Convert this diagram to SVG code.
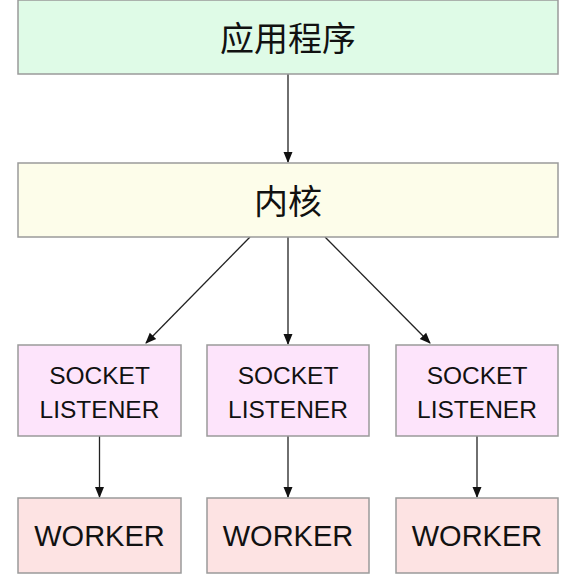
<svg xmlns="http://www.w3.org/2000/svg" width="577" height="587" viewBox="0 0 577 587">
<style>
.box{stroke:#9a9a9a;stroke-width:1.5}
.app{fill:#dffbe7}
.kern{fill:#fdfdea}
.sock{fill:#fde4fb}
.work{fill:#fde3e3}
.cjk{font-family:"Noto Sans CJK SC","Noto Sans CJK TC",sans-serif;font-size:34px;fill:#111;text-anchor:middle}
.lat{font-family:"Liberation Sans",Arial,sans-serif;fill:#111;text-anchor:middle}
.s{font-size:24.5px}
.w{font-size:29px}
.conn line{stroke:#222;stroke-width:1.3}
</style>
<defs>
<marker id="ah" markerWidth="12" markerHeight="12" refX="10" refY="5.5" orient="auto" markerUnits="userSpaceOnUse">
<path d="M0,1 L11,5.5 L0,10 z" fill="#111"/>
</marker>
</defs>
<rect width="577" height="587" fill="#fff"/>
<g id="conns" class="conn">
<line x1="288" y1="74" x2="288" y2="162" marker-end="url(#ah)"/>
<line x1="250" y1="237" x2="146" y2="343" marker-end="url(#ah)"/>
<line x1="288" y1="237" x2="288" y2="344" marker-end="url(#ah)"/>
<line x1="325" y1="237" x2="430" y2="343" marker-end="url(#ah)"/>
<line x1="99.5" y1="436" x2="99.5" y2="497" marker-end="url(#ah)"/>
<line x1="288" y1="436" x2="288" y2="497" marker-end="url(#ah)"/>
<line x1="477" y1="436" x2="477" y2="497" marker-end="url(#ah)"/>
</g>
<g id="app">
<rect class="box app" x="18" y="0" width="540" height="74"/>
<text class="cjk" x="288" y="51">应用程序</text>
</g>
<g id="kernel">
<rect class="box kern" x="18" y="163" width="540" height="74"/>
<text class="cjk" x="288" y="214">内核</text>
</g>
<g id="sock1">
<rect class="box sock" x="18" y="345" width="163" height="91"/>
<text class="lat s" x="99.5" y="384">SOCKET</text>
<text class="lat s" x="99.5" y="418">LISTENER</text>
</g>
<g id="sock2">
<rect class="box sock" x="207" y="345" width="162" height="91"/>
<text class="lat s" x="288" y="384">SOCKET</text>
<text class="lat s" x="288" y="418">LISTENER</text>
</g>
<g id="sock3">
<rect class="box sock" x="396" y="345" width="162" height="91"/>
<text class="lat s" x="477" y="384">SOCKET</text>
<text class="lat s" x="477" y="418">LISTENER</text>
</g>
<g id="work1">
<rect class="box work" x="18" y="498" width="163" height="75"/>
<text class="lat w" x="99.5" y="546">WORKER</text>
</g>
<g id="work2">
<rect class="box work" x="207" y="498" width="162" height="75"/>
<text class="lat w" x="288" y="546">WORKER</text>
</g>
<g id="work3">
<rect class="box work" x="396" y="498" width="162" height="75"/>
<text class="lat w" x="477" y="546">WORKER</text>
</g>
</svg>
